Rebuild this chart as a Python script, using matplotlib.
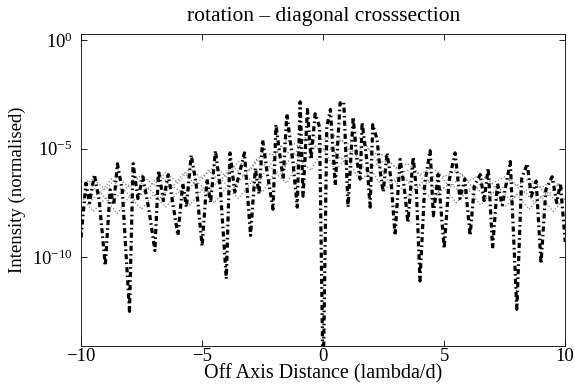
import numpy as np
import matplotlib
matplotlib.use("Agg")
import matplotlib.pyplot as plt

# main cross-section (log10 of normalised intensity)
black_x = [-10.0, -9.8, -9.65, -9.45, -9.25, -9.0, -8.8, -8.65, -8.5, -8.3,
           -8.0, -7.85, -7.65, -7.45, -7.2, -6.95, -6.8, -6.6, -6.4, -6.2,
           -6.0, -5.8, -5.65, -5.45, -5.25, -5.0, -4.8, -4.65, -4.45, -4.25,
           -4.0, -3.85, -3.65, -3.45, -3.25, -3.0, -2.8, -2.65, -2.5, -2.3,
           -2.07, -1.95, -1.8, -1.65, -1.5, -1.25, -1.07, -0.95, -0.83, -0.65,
           -0.5, -0.33, -0.15, 0.0, 0.15, 0.3, 0.5, 0.7, 0.85, 1.03,
           1.24, 1.4, 1.53, 1.61, 1.8, 1.94, 2.05, 2.23, 2.35, 2.48,
           2.64, 2.8, 2.97, 3.18, 3.35, 3.5, 3.72, 3.85, 4.0, 4.2,
           4.42, 4.55, 4.75, 5.0, 5.2, 5.45, 5.65, 5.85, 6.07, 6.25,
           6.49, 6.65, 6.82, 7.0, 7.2, 7.4, 7.55, 7.73, 8.0, 8.2,
           8.43, 8.6, 8.8, 9.0, 9.2, 9.46, 9.65, 9.8, 10.0]
black_log = [-9.1, -6.6, -7.5, -6.2, -7.4, -10.4, -6.9, -7.6, -5.7, -6.9,
             -12.5, -5.7, -7.3, -6.3, -7.8, -9.7, -6.0, -7.4, -6.2, -7.6,
             -9.0, -6.6, -7.7, -5.3, -6.6, -9.5, -6.4, -7.5, -5.1, -6.8,
             -11.0, -5.2, -7.0, -6.1, -5.2, -9.0, -5.9, -7.1, -4.6, -6.2,
             -7.8, -3.9, -5.2, -6.4, -3.4, -5.6, -7.7, -2.85, -7.2, -3.2,
             -5.5, -3.4, -4.0, -16.0, -4.0, -3.2, -6.7, -2.9, -2.85, -7.7,
             -3.55, -5.6, -6.4, -3.8, -5.5, -7.7, -3.9, -4.6, -6.0, -7.0,
             -5.2, -6.4, -9.0, -5.5, -6.8, -8.4, -5.4, -6.9, -11.1, -6.6,
             -5.1, -8.1, -6.2, -9.6, -6.5, -5.2, -7.3, -6.4, -9.0, -6.7,
             -6.2, -7.4, -5.9, -9.6, -6.6, -7.6, -6.7, -5.6, -12.4, -6.4,
             -5.7, -7.2, -6.5, -10.3, -6.9, -6.3, -7.5, -6.6, -9.3]

# other rotations (dotted), log10 values
dot_x_a = [-10.0, -9.5, -9.0, -8.5, -8.0, -7.5, -7.0, -6.5, -6.0, -5.5,
           -5.0, -4.5, -4.0, -3.5, -3.0, -2.5, -2.0, -1.5, -1.0, -0.5,
           0.0, 0.5, 1.0, 1.5, 2.0, 2.5, 3.0, 3.5, 4.0, 4.5,
           5.0, 5.5, 6.0, 6.5, 7.0, 7.5, 8.0, 8.5, 9.0, 9.5, 10.0]
dot_log_a = [-6.8, -6.4, -6.9, -6.3, -6.8, -6.2, -6.7, -6.1, -6.6, -5.9,
             -6.4, -5.8, -6.3, -5.6, -6.0, -5.2, -5.3, -4.6, -4.9, -4.4,
             -4.6, -4.4, -4.8, -4.5, -5.2, -5.3, -5.9, -5.7, -6.2, -5.9,
             -6.3, -6.0, -6.5, -6.2, -6.6, -6.3, -6.7, -6.4, -6.8, -6.5, -6.9]

dot_x_b = [-9.75, -9.25, -8.75, -8.25, -7.75, -7.25, -6.75, -6.25, -5.75, -5.25,
           -4.75, -4.25, -3.75, -3.25, -2.75, -2.25, -1.75, -1.25, -0.75, -0.25,
           0.25, 0.75, 1.25, 1.75, 2.25, 2.75, 3.25, 3.75, 4.25, 4.75,
           5.25, 5.75, 6.25, 6.75, 7.25, 7.75, 8.25, 8.75, 9.25, 9.75]
dot_log_b = [-7.6, -7.0, -7.5, -6.9, -7.4, -6.8, -7.3, -6.7, -7.1, -6.5,
             -7.0, -6.4, -6.9, -6.2, -6.7, -5.8, -6.2, -5.2, -5.6, -4.8,
             -4.9, -5.5, -5.1, -6.0, -5.7, -6.6, -6.2, -6.9, -6.4, -7.0,
             -6.6, -7.1, -6.7, -7.3, -6.8, -7.4, -6.9, -7.5, -7.0, -7.6]

dot_x_c = dot_x_a
dot_log_c = [-7.2, -7.9, -7.3, -8.0, -7.2, -7.8, -7.1, -7.7, -7.0, -7.6,
             -6.9, -7.5, -6.8, -7.3, -6.6, -7.0, -6.1, -6.6, -5.5, -6.0,
             -5.0, -6.0, -5.4, -6.5, -6.0, -6.9, -6.5, -7.2, -6.7, -7.4,
             -6.8, -7.5, -6.9, -7.6, -7.0, -7.7, -7.1, -7.8, -7.2, -7.9, -7.3]

dot_x_d = dot_x_b
dot_log_d = [-6.5, -7.1, -6.4, -7.0, -6.3, -6.9, -6.2, -6.8, -6.1, -6.7,
             -6.0, -6.5, -5.8, -6.3, -5.5, -5.9, -4.9, -5.4, -4.5, -5.0,
             -5.1, -4.6, -5.3, -4.8, -5.6, -5.6, -6.1, -5.9, -6.6, -6.1,
             -6.8, -6.2, -6.9, -6.3, -7.0, -6.4, -7.1, -6.5, -7.2, -6.6]

plt.rcParams['font.family'] = ['Liberation Serif', 'DejaVu Serif']
plt.rcParams['mathtext.fontset'] = 'stix'

fig = plt.figure(figsize=(5.75, 3.85), dpi=100)
ax = fig.add_axes([0.141, 0.101, 0.842, 0.811])

dotted = [(dot_x_a, dot_log_a), (dot_x_b, dot_log_b),
          (dot_x_c, dot_log_c), (dot_x_d, dot_log_d)]
for xs, ys in dotted:
    ax.plot(xs, 10.0 ** np.array(ys), color='0.5', lw=0.9, linestyle=':')

ax.plot(black_x, 10.0 ** np.array(black_log), color='black', lw=2.3,
        linestyle=(0, (1.6, 1.0, 0.5, 1.0)))

ax.set_yscale('log')
ax.set_xlim(-10, 10)
ax.set_ylim(10 ** -14.1, 10 ** 0.28)
ax.set_yticks([1e0, 1e-5, 1e-10])
ax.yaxis.set_minor_locator(matplotlib.ticker.NullLocator())
ax.set_xticks([-10, -5, 0, 5, 10])
ax.set_xticklabels(['\u221210', '\u22125', '0', '5', '10'])
ax.tick_params(which='both', direction='in', top=True, right=True, length=4, width=0.6)
ax.tick_params(axis='x', labelsize=13.5, pad=1)
ax.tick_params(axis='y', labelsize=13.5, pad=6)
for s in ax.spines.values():
    s.set_linewidth(0.6)

ax.set_title('rotation \u2013 diagonal crosssection', fontsize=15.5, pad=9)
ax.set_xlabel('Off Axis Distance (lambda/d)', fontsize=14.5, labelpad=0)
ax.set_ylabel('Intensity (normalised)', fontsize=13.5, labelpad=4)

fig.savefig('out.png', dpi=100)
